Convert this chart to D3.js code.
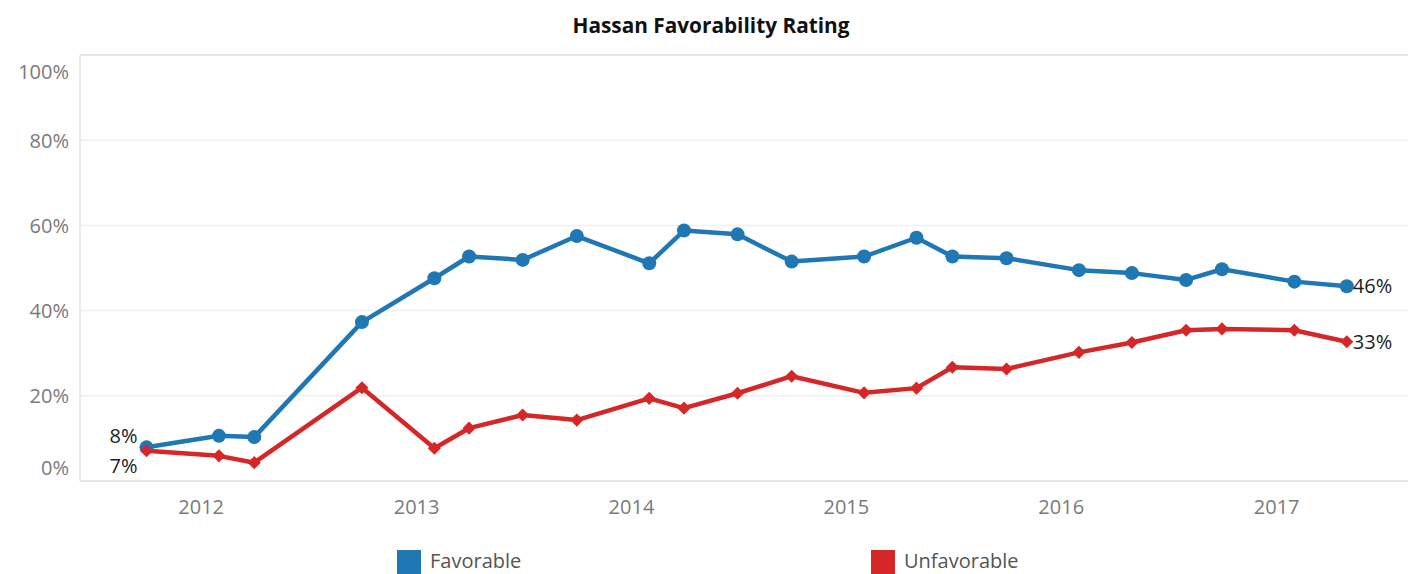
<!DOCTYPE html>
<html>
<head>
<meta charset="utf-8">
<script src="https://cdn.jsdelivr.net/npm/d3@7"></script>
<style>
  body { margin: 0; background: #fff; }
  svg { display: block; }
</style>
</head>
<body>
<svg id="chart" width="1408" height="574"></svg>
<script>
// poll dates and values (percent)
var dates = ["2011-10-01", "2012-02-01", "2012-04-01", "2012-10-01", "2013-02-01", "2013-04-01",
  "2013-07-01", "2013-10-01", "2014-02-01", "2014-04-01", "2014-07-01", "2014-10-01",
  "2015-02-01", "2015-05-01", "2015-07-01", "2015-10-01", "2016-02-01", "2016-05-01",
  "2016-08-01", "2016-10-01", "2017-02-01", "2017-05-01"];
var favorable = [7.9, 10.6, 10.3, 37.3, 47.6, 52.7, 51.9, 57.5, 51.1, 58.8, 57.9, 51.5,
  52.7, 57.1, 52.7, 52.3, 49.5, 48.8, 47.2, 49.7, 46.8, 45.7];
var unfavorable = [7.1, 5.9, 4.3, 21.9, 7.7, 12.4, 15.5, 14.3, 19.4, 17.1, 20.6, 24.6,
  20.7, 21.8, 26.7, 26.3, 30.2, 32.5, 35.4, 35.7, 35.4, 32.7];
var yTicks = [0, 20, 40, 60, 80, 100];
var xTicks = ["2012", "2013", "2014", "2015", "2016", "2017"];
var seriesNames = ["Favorable", "Unfavorable"];

var colors = {"Favorable": "#1f77b4", "Unfavorable": "#d62728"};
var font = "'Open Sans', sans-serif";

var parse = d3.timeParse("%Y-%m-%d");
var series = [
  {name: "Favorable", values: dates.map(function(d, i) { return {date: parse(d), v: favorable[i]}; })},
  {name: "Unfavorable", values: dates.map(function(d, i) { return {date: parse(d), v: unfavorable[i]}; })}
];

// plot box
var pLeft = 80, pRight = 1408, pTop = 55, pBottom = 481;

var svg = d3.select("#chart");

var x = d3.scaleTime()
    .domain([parse("2011-06-10"), parse("2017-08-13")])
    .range([pLeft, pRight]);
var y = d3.scaleLinear()
    .domain([0, 100])
    .range([pBottom, pTop]);

// title
svg.append("text")
    .attr("x", 711)
    .attr("y", 33)
    .attr("text-anchor", "middle")
    .attr("font-family", font)
    .attr("font-weight", 700)
    .attr("font-size", 20.8)
    .attr("fill", "#111")
    .text("Hassan Favorability Rating");

// grid lines
svg.append("g").selectAll("line")
    .data(yTicks.filter(function(t) { return t > 0 && t < 100; }))
  .enter().append("line")
    .attr("x1", pLeft).attr("x2", pRight)
    .attr("y1", function(d) { return y(d); })
    .attr("y2", function(d) { return y(d); })
    .attr("stroke", "#f0f0f0")
    .attr("stroke-width", 1.5);

// frame (top, left, bottom)
svg.append("line").attr("x1", pLeft).attr("x2", pRight).attr("y1", pTop).attr("y2", pTop)
    .attr("stroke", "#e6e6e6").attr("stroke-width", 2);
svg.append("line").attr("x1", pLeft).attr("x2", pLeft).attr("y1", pTop).attr("y2", pBottom)
    .attr("stroke", "#e6e6e6").attr("stroke-width", 1.5);
svg.append("line").attr("x1", pLeft).attr("x2", pRight).attr("y1", pBottom).attr("y2", pBottom)
    .attr("stroke", "#e6e6e6").attr("stroke-width", 2);

// y axis labels, end ones nudged inside like tableau does
var yAxis = d3.axisLeft(y)
    .tickValues(yTicks)
    .tickFormat(function(d) { return d + "%"; })
    .tickSize(0)
    .tickPadding(11);
var gy = svg.append("g")
    .attr("transform", "translate(" + pLeft + ",0)")
    .call(yAxis);
gy.select(".domain").remove();
gy.selectAll("text")
    .attr("font-family", font)
    .attr("font-size", 20)
    .attr("fill", "#7a7a7a")
    .attr("dy", function(d) { return d == 100 ? "1.15em" : (d == 0 ? "-0.35em" : "0.35em"); });

// x axis labels
var xAxis = d3.axisBottom(x)
    .tickValues(xTicks.map(function(t) { return parse(t + "-01-01"); }))
    .tickFormat(d3.timeFormat("%Y"))
    .tickSize(0)
    .tickPadding(19);
var gx = svg.append("g")
    .attr("transform", "translate(0," + pBottom + ")")
    .call(xAxis);
gx.select(".domain").remove();
gx.selectAll("text")
    .attr("font-family", font)
    .attr("font-size", 20)
    .attr("fill", "#7a7a7a");

// lines
var line = d3.line()
    .x(function(d) { return x(d.date); })
    .y(function(d) { return y(d.v); });

svg.append("g").selectAll("path")
    .data(series)
  .enter().append("path")
    .attr("d", function(s) { return line(s.values); })
    .attr("fill", "none")
    .attr("stroke", function(s) { return colors[s.name]; })
    .attr("stroke-width", 4.5)
    .attr("stroke-linejoin", "round");

// markers
svg.append("g").selectAll("circle")
    .data(series[0].values)
  .enter().append("circle")
    .attr("cx", function(d) { return x(d.date); })
    .attr("cy", function(d) { return y(d.v); })
    .attr("r", 7)
    .attr("fill", colors.Favorable);

var diamond = d3.symbol().type(d3.symbolDiamond2).size(110);
svg.append("g").selectAll("path")
    .data(series[1].values)
  .enter().append("path")
    .attr("d", diamond)
    .attr("transform", function(d) { return "translate(" + x(d.date) + "," + y(d.v) + ")"; })
    .attr("fill", colors.Unfavorable);

// value labels at first and last point
var fmt = function(v) { return Math.round(v) + "%"; };
var labels = [
  {d: series[0].values[0], dx: -9, dy: -4, anchor: "end"},
  {d: series[1].values[0], dx: -9, dy: 22, anchor: "end"},
  {d: series[0].values[dates.length - 1], dx: 6, dy: 7, anchor: "start"},
  {d: series[1].values[dates.length - 1], dx: 6, dy: 7, anchor: "start"}
];
svg.append("g").selectAll("text")
    .data(labels)
  .enter().append("text")
    .attr("x", function(l) { return x(l.d.date) + l.dx; })
    .attr("y", function(l) { return y(l.d.v) + l.dy; })
    .attr("text-anchor", function(l) { return l.anchor; })
    .attr("font-family", font)
    .attr("font-size", 20)
    .attr("fill", "#222")
    .text(function(l) { return fmt(l.d.v); });

// legend
var legendX = [397, 871];
var lg = svg.append("g").selectAll("g")
    .data(seriesNames)
  .enter().append("g")
    .attr("transform", function(d, i) { return "translate(" + legendX[i] + ",550)"; });
lg.append("rect")
    .attr("width", 24)
    .attr("height", 24)
    .attr("fill", function(d) { return colors[d]; });
lg.append("text")
    .attr("x", 33)
    .attr("y", 18)
    .attr("font-family", font)
    .attr("font-size", 20)
    .attr("fill", "#555")
    .text(function(d) { return d; });
</script>
</body>
</html>
